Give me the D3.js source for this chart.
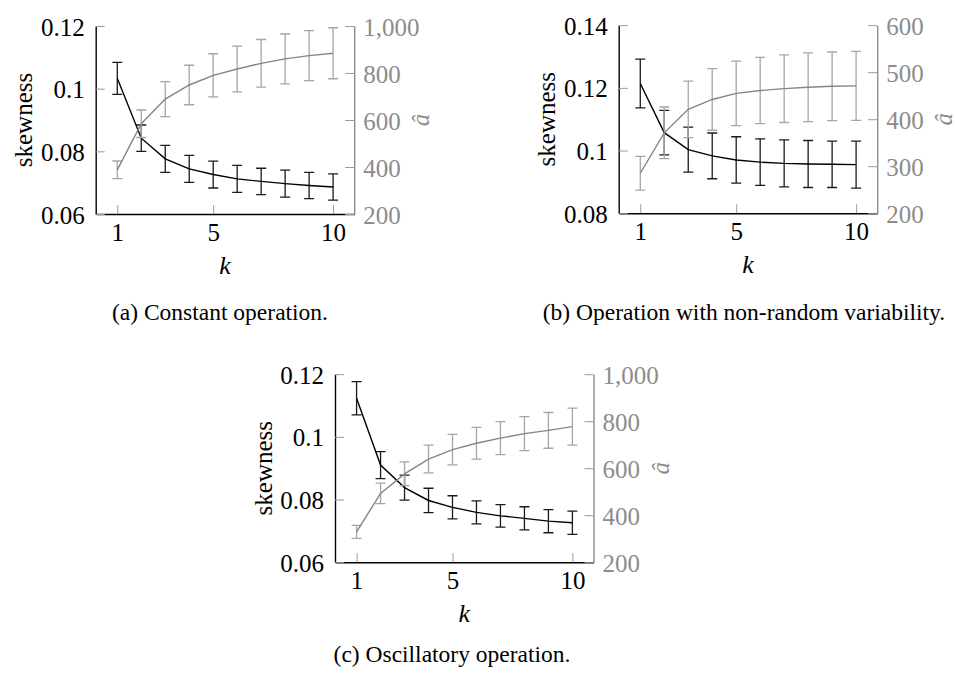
<!DOCTYPE html>
<html>
<head>
<meta charset="utf-8">
<script src="https://cdn.jsdelivr.net/npm/d3@7"></script>
<style>
  body { margin: 0; background: #fff; }
  svg { display: block; }
  svg text { font-family: "Liberation Serif", "Times New Roman", Times, "DejaVu Serif", serif; }
</style>
</head>
<body>
<div id="chart"></div>
<script>
// data
var kValues = [1, 2, 3, 4, 5, 6, 7, 8, 9, 10];
var xTicks = [1, 5, 10];

// (a) constant operation
var skewA = [0.1033, 0.0842, 0.0776, 0.0744, 0.0726, 0.0712, 0.0704, 0.0697, 0.0691, 0.0686];
var skewAErr = [0.0051, 0.0042, 0.0043, 0.0043, 0.0043, 0.0043, 0.0042, 0.0043, 0.0042, 0.0042];
var aHatA = [388, 584, 689, 749, 790, 817, 841, 860, 874, 884];
var aHatAErr = [37.5, 58.5, 74.5, 84, 92, 97.5, 101.5, 106, 106.5, 108.5];

// (b) non-random variability
var skewB = [0.1214, 0.1057, 0.1003, 0.0983, 0.0970, 0.0963, 0.0959, 0.0957, 0.0956, 0.0955];
var skewBErr = [0.0078, 0.0071, 0.0072, 0.0073, 0.0074, 0.0074, 0.0075, 0.0075, 0.0074, 0.0075];
var aHatB = [285, 371, 421, 442, 455, 461, 465, 468, 470, 471];
var aHatBErr = [36, 55, 60, 65.5, 68.5, 70.5, 72, 73, 73, 73.5];

// (c) oscillatory operation
var skewC = [0.1123, 0.0910, 0.0838, 0.0797, 0.0775, 0.0759, 0.0748, 0.0740, 0.0731, 0.0726];
var skewCErr = [0.0053, 0.0043, 0.0040, 0.0039, 0.0037, 0.0037, 0.0036, 0.0037, 0.0037, 0.0037];
var aHatC = [329, 493, 576, 639, 679, 706, 728, 747, 761, 777];
var aHatCErr = [27.5, 43.5, 50.5, 59, 65, 67.5, 70.5, 72.5, 76, 78.5];

var leftTicksA = [0.06, 0.08, 0.1, 0.12];
var rightTicksA = [200, 400, 600, 800, 1000];
var leftTicksB = [0.08, 0.1, 0.12, 0.14];
var rightTicksB = [200, 300, 400, 500, 600];
var leftTicksC = [0.06, 0.08, 0.1, 0.12];
var rightTicksC = [200, 400, 600, 800, 1000];

var captions = ["(a) Constant operation.",
                "(b) Operation with non-random variability.",
                "(c) Oscillatory operation."];

var W = 956, H = 673;
var pw = 258.5, ph = 188;
var fs = 25;

var svg = d3.select("#chart").append("svg")
  .attr("width", W).attr("height", H);

makePanel(95.7, 26, skewA, skewAErr, aHatA, aHatAErr, leftTicksA, rightTicksA, captions[0], 220, 320);
makePanel(618.7, 25.2, skewB, skewBErr, aHatB, aHatBErr, leftTicksB, rightTicksB, captions[1], 744, 320);
makePanel(335, 374.2, skewC, skewCErr, aHatC, aHatCErr, leftTicksC, rightTicksC, captions[2], 452, 662);

function makePanel(left, top, skew, skewErr, ahat, ahatErr, lTicks, rTicks, caption, capX, capY) {
  var g = svg.append("g").attr("transform", `translate(${left},${top})`);

  var x = d3.scaleLinear().domain([0.1, 10.88]).range([0, pw]);
  var yL = d3.scaleLinear().domain(d3.extent(lTicks)).range([ph, 0]);
  var yR = d3.scaleLinear().domain(d3.extent(rTicks)).range([ph, 0]);

  // axes (ticks point inside like pgfplots)
  var ax = g.append("g").attr("transform", `translate(0,${ph})`)
    .call(d3.axisBottom(x).tickValues(xTicks).tickFormat(d3.format("d"))
      .tickSizeInner(-9).tickSizeOuter(0).tickPadding(9));
  var ayl = g.append("g")
    .call(d3.axisLeft(yL).tickValues(lTicks).tickFormat(d => String(+d.toFixed(2)))
      .tickSizeInner(-9).tickSizeOuter(0).tickPadding(11));
  var ayr = g.append("g").attr("transform", `translate(${pw},0)`)
    .call(d3.axisRight(yR).tickValues(rTicks).tickFormat(d3.format(","))
      .tickSizeInner(-9).tickSizeOuter(0).tickPadding(9));

  [ax, ayl, ayr].forEach(function(a) {
    a.attr("font-family", null).attr("font-size", null);
    a.selectAll(".tick line").attr("stroke", "#9a9a9a").attr("stroke-width", 1);
    a.selectAll("text").style("font-size", fs + "px").attr("fill", "#000");
  });
  ayr.selectAll("text").attr("fill", "#8c8c8c");
  ax.select(".domain").attr("stroke", "#000").attr("stroke-width", 1.4);
  ayl.select(".domain").attr("stroke", "#000").attr("stroke-width", 1.4);
  ayr.select(".domain").attr("stroke", "#8c8c8c").attr("stroke-width", 1.4);
  ayl.selectAll("text").attr("dy", "0.36em");
  ayr.selectAll("text").attr("dy", "0.36em");

  // black series: skewness
  drawSeries(g, x, yL, skew, skewErr, "#000", "#1a1a1a");
  // gray series: a-hat
  drawSeries(g, x, yR, ahat, ahatErr, "#858585", "#a6a6a6");

  // axis labels
  g.append("text")
    .attr("transform", `translate(${-63.5},${ph / 2}) rotate(-90)`)
    .attr("text-anchor", "middle")
    .style("font-size", "25px")
    .text("skewness");
  g.append("text")
    .attr("x", pw / 2).attr("y", ph + 60)
    .attr("text-anchor", "middle")
    .style("font-size", "26px").style("font-style", "italic")
    .text("k");
  g.append("text")
    .attr("transform", `translate(${pw + 75},${ph / 2}) rotate(-90)`)
    .attr("text-anchor", "middle")
    .attr("fill", "#8c8c8c")
    .style("font-size", "25px").style("font-style", "italic")
    .text("\u00e2");

  // caption
  svg.append("text")
    .attr("x", capX).attr("y", capY)
    .attr("text-anchor", "middle")
    .style("font-size", "23.5px")
    .text(caption);
}

function drawSeries(g, x, y, vals, errs, lineColor, barColor) {
  var pts = kValues.map((k, i) => ({ k: k, v: vals[i], e: errs[i] }));
  var cap = 5;
  var bars = g.append("g").attr("stroke", barColor).attr("stroke-width", 1.3).attr("fill", "none");
  bars.selectAll("path").data(pts).enter().append("path")
    .attr("d", function(d) {
      var cx = x(d.k), y0 = y(d.v - d.e), y1 = y(d.v + d.e);
      return `M${cx},${y0}V${y1}M${cx - cap},${y0}H${cx + cap}M${cx - cap},${y1}H${cx + cap}`;
    });
  g.append("path").datum(pts)
    .attr("fill", "none").attr("stroke", lineColor).attr("stroke-width", 1.4)
    .attr("d", d3.line().x(d => x(d.k)).y(d => y(d.v)));
}
</script>
</body>
</html>
